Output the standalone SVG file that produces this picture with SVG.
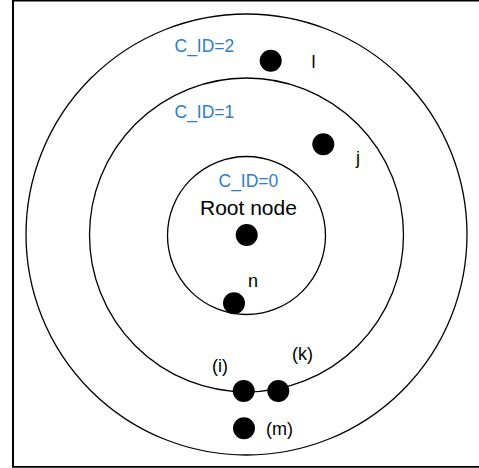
<svg xmlns="http://www.w3.org/2000/svg" width="479" height="468" viewBox="0 0 479 468">
<style>
.ring{fill:none;stroke:#000;stroke-width:1.3}
.dot{fill:#000}
.cid{font-family:"Liberation Sans",Arial,sans-serif;font-size:17.5px;fill:#2E7DCB}
.lbl{font-family:"Liberation Sans",Arial,sans-serif;font-size:18px;fill:#000}
.root{font-family:"Liberation Sans",Arial,sans-serif;font-size:21px;fill:#000}
</style>
<rect width="479" height="468" fill="#fff"/>
<g id="frame" stroke="#000" fill="none">
<line x1="13" y1="0" x2="13" y2="467.5" stroke-width="2"/>
<line x1="12" y1="0.8" x2="479" y2="0.8" stroke-width="1.6"/>
<line x1="12" y1="466.8" x2="479" y2="466.8" stroke-width="1.8"/>
</g>
<g id="rings">
<circle class="ring" cx="246.5" cy="234.5" r="220.5"/>
<circle class="ring" cx="246.5" cy="235" r="157"/>
<circle class="ring" cx="246.5" cy="235.5" r="79"/>
</g>
<g id="labels">
<text class="cid" x="174.5" y="52">C_ID=2</text>
<text class="cid" x="174.5" y="118">C_ID=1</text>
<text class="cid" x="218.5" y="187">C_ID=0</text>
</g>
<g id="root"><text class="root" x="200" y="215">Root node</text><circle class="dot" cx="246.7" cy="235" r="11"/></g>
<g id="node-l"><circle class="dot" cx="270.7" cy="60.7" r="11"/><text class="lbl" x="311.5" y="68">l</text></g>
<g id="node-j"><circle class="dot" cx="323.3" cy="144.3" r="11"/><text class="lbl" x="356" y="164">j</text></g>
<g id="node-n"><circle class="dot" cx="234" cy="303.3" r="11"/><text class="lbl" x="248" y="287">n</text></g>
<g id="node-i"><circle class="dot" cx="243.7" cy="391" r="11"/><text class="lbl" x="212" y="372">(i)</text></g>
<g id="node-k"><circle class="dot" cx="278.3" cy="391" r="11"/><text class="lbl" x="292" y="360">(k)</text></g>
<g id="node-m"><circle class="dot" cx="244" cy="428.3" r="11"/><text class="lbl" x="266" y="435">(m)</text></g>
<g id="connectors"></g>
</svg>
